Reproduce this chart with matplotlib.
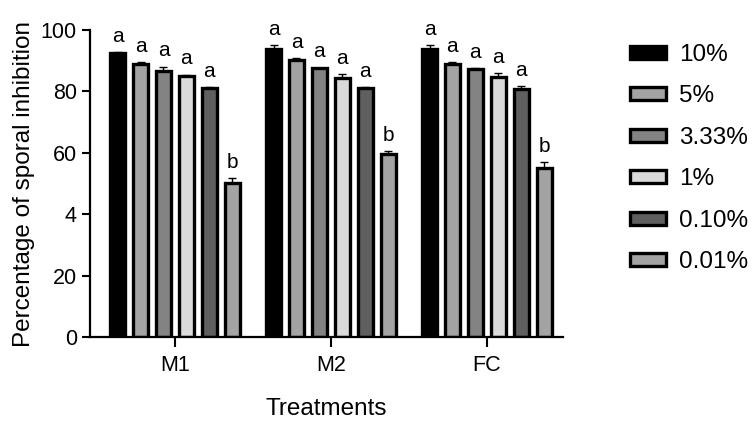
import matplotlib.pyplot as plt
import numpy as np

plt.rcParams['font.family'] = ['Liberation Sans', 'DejaVu Sans']

treatments = ['M1', 'M2', 'FC']
concs = ['10%', '5%', '3.33%', '1%', '0.10%', '0.01%']
colors = ['#000000', '#a3a3a3', '#838383', '#dadada', '#5f5f5f', '#a3a3a3']

# rows = concentration, columns = treatment
means = [
    [92.4, 94.0, 93.8],
    [89.1, 90.4, 89.1],
    [86.6, 87.5, 87.3],
    [85.0, 84.5, 84.8],
    [81.0, 81.0, 80.7],
    [50.3, 59.6, 55.2],
]
errs = [
    [0.5, 1.0, 1.2],
    [0.5, 0.5, 0.5],
    [1.5, 0.3, 0.3],
    [0.5, 1.2, 1.2],
    [0.5, 0.5, 1.1],
    [1.5, 1.1, 1.9],
]
letters = ['a', 'a', 'a', 'a', 'a', 'b']

fig = plt.figure(figsize=(7.56, 4.24), dpi=100)
ax = fig.add_axes([0.119, 0.205, 0.626, 0.724])

x = np.arange(len(treatments))
step = 0.147
width = 0.095
for i, c in enumerate(concs):
    pos = x + (i - 2.5) * step
    ax.bar(pos, means[i], width, color=colors[i], edgecolor='black',
           linewidth=2.4, label=c, zorder=2)
    ax.errorbar(pos, means[i], yerr=errs[i], fmt='none', ecolor='black',
                elinewidth=1, capsize=3, capthick=1, zorder=1)
    for p, m, e in zip(pos, means[i], errs[i]):
        ax.text(p, m + e + 2.0, letters[i], ha='center', va='bottom', fontsize=15)

ax.set_xlim(-0.545, 2.49)
ax.set_ylim(0, 100)
ax.set_xticks(x)
ax.set_xticklabels(treatments, fontsize=15.5)
ax.set_yticks([0, 20, 40, 60, 80, 100])
ax.set_yticklabels(['0', '20', '4', '60', '80', '100'], fontsize=15.5)
ax.tick_params(axis='both', width=1.5, length=6, direction='out')
ax.tick_params(axis='x', length=7, pad=6)
for s in ['top', 'right']:
    ax.spines[s].set_visible(False)
for s in ['left', 'bottom']:
    ax.spines[s].set_linewidth(1.6)

ax.set_ylabel('Percentage of sporal inhibition', fontsize=17.5, labelpad=4)
ax.set_xlabel('Treatments', fontsize=17.5, labelpad=16)

ax.legend(loc='upper left', bbox_to_anchor=(1.142, 0.955), frameon=False,
          fontsize=17.5, handlelength=1.45, handleheight=0.45, labelspacing=0.8,
          handletextpad=0.55, borderpad=0, borderaxespad=0)

fig.savefig('out.png', dpi=100)
